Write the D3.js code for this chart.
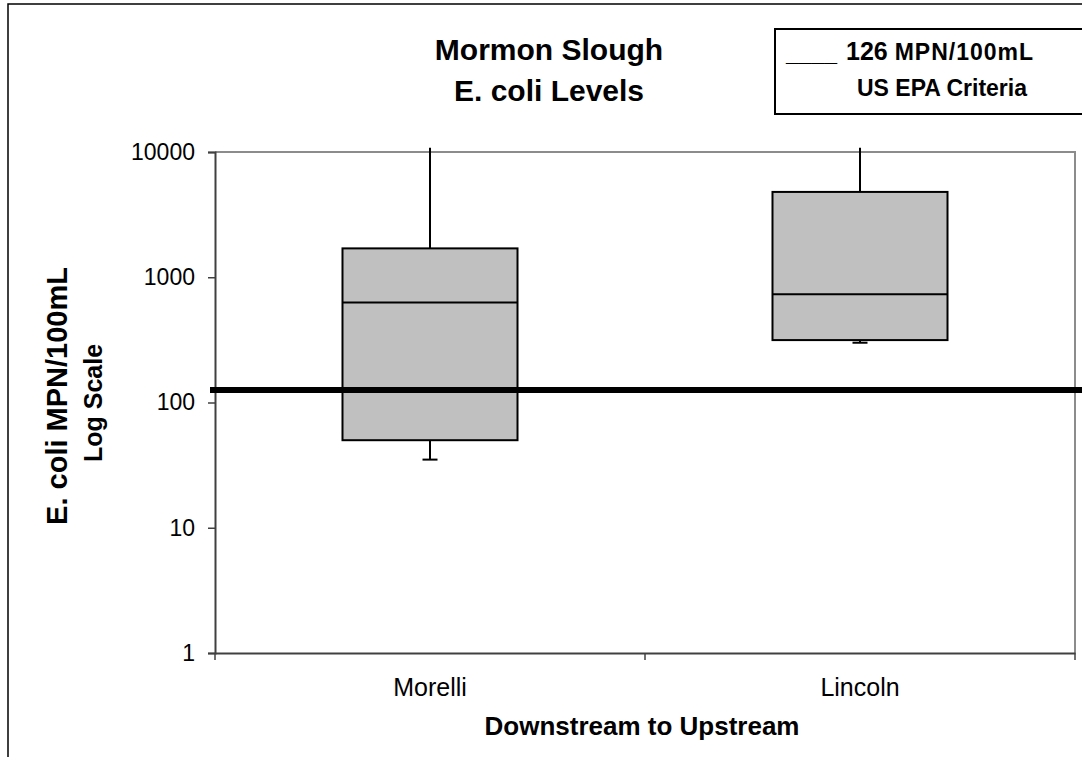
<!DOCTYPE html>
<html>
<head>
<meta charset="utf-8">
<script src="https://cdn.jsdelivr.net/npm/d3@7"></script>
<style>
  html, body { margin: 0; padding: 0; background: #fff; }
  svg { display: block; font-family: "Liberation Sans", Arial, sans-serif; }
</style>
</head>
<body>
<svg id="chart" width="1082" height="757"></svg>
<script>
// ---- data ----
const categories = ["Morelli", "Lincoln"];
const minValues = [35, 300];
const q1Values = [50, 315];
const medianValues = [630, 730];
const q3Values = [1700, 4800];
const maxValues = [10800, 10800];
const criteriaValue = 126;
const yTickValues = [1, 10, 100, 1000, 10000];
const titleLines = ["Mormon Slough", "E. coli Levels"];
const legendLines = ["126", "MPN/100mL", "US EPA Criteria"];

const svg = d3.select("#chart");
const W = 1082, H = 757;
const plot = { left: 215, right: 1075, top: 152, bottom: 653 };
const FONT = "Liberation Sans, Arial, sans-serif";

// outer chart border (extends beyond window)
svg.append("rect")
  .attr("x", 8).attr("y", 4)
  .attr("width", W + 20).attr("height", H + 20)
  .attr("fill", "#fff").attr("stroke", "#000").attr("stroke-width", 1.5);

const x = d3.scaleBand().domain(categories).range([plot.left, plot.right]);
const y = d3.scaleLog().domain([1, 10000]).range([plot.bottom, plot.top]);

// plot area top/right border
svg.append("path")
  .attr("d", `M${plot.left},${plot.top}H${plot.right}V${plot.bottom}`)
  .attr("fill", "none").attr("stroke", "#8c8c8c").attr("stroke-width", 2);

// y axis
const yAxis = d3.axisLeft(y).tickValues(yTickValues).tickFormat(d3.format("d"))
  .tickSizeOuter(0).tickSize(7).tickPadding(13);
const gy = svg.append("g").attr("transform", `translate(${plot.left},0)`).call(yAxis);
gy.select(".domain").attr("stroke", "#404040").attr("stroke-width", 2);
gy.selectAll(".tick line").attr("stroke", "#404040").attr("stroke-width", 1.5);
gy.selectAll(".tick text").attr("font-size", 23).attr("fill", "#000").attr("font-family", FONT);

// x axis
const xAxis = d3.axisBottom(x).tickSize(0).tickPadding(25);
const gx = svg.append("g").attr("transform", `translate(0,${plot.bottom})`).call(xAxis);
gx.select(".domain").attr("stroke", "#404040").attr("stroke-width", 2);
gx.selectAll(".tick text").attr("font-size", 25).attr("fill", "#000").attr("font-family", FONT);
// x tick marks at band boundaries
const xBoundaries = [plot.left, ...categories.slice(1).map(c => x(c)), plot.right];
svg.append("g").selectAll("line").data(xBoundaries).join("line")
  .attr("x1", d => d).attr("x2", d => d)
  .attr("y1", plot.bottom).attr("y2", plot.bottom + 7)
  .attr("stroke", "#404040").attr("stroke-width", 1.5);

// boxes
const boxW = x.bandwidth() * 0.407;
const capW = 15;
const boxes = svg.append("g");
categories.forEach((c, i) => {
  const cx = x(c) + x.bandwidth() / 2;
  boxes.append("line").attr("x1", cx).attr("x2", cx)
    .attr("y1", y(maxValues[i])).attr("y2", y(minValues[i]))
    .attr("stroke", "#000").attr("stroke-width", 2);
  boxes.append("line").attr("x1", cx - capW / 2).attr("x2", cx + capW / 2)
    .attr("y1", y(minValues[i])).attr("y2", y(minValues[i]))
    .attr("stroke", "#000").attr("stroke-width", 2);
  boxes.append("rect")
    .attr("x", cx - boxW / 2).attr("width", boxW)
    .attr("y", y(q3Values[i])).attr("height", y(q1Values[i]) - y(q3Values[i]))
    .attr("fill", "#c0c0c0").attr("stroke", "#000").attr("stroke-width", 2);
  boxes.append("line").attr("x1", cx - boxW / 2).attr("x2", cx + boxW / 2)
    .attr("y1", y(medianValues[i])).attr("y2", y(medianValues[i]))
    .attr("stroke", "#000").attr("stroke-width", 2);
});

// criteria line
svg.append("line")
  .attr("x1", plot.left - 5).attr("x2", W)
  .attr("y1", y(criteriaValue)).attr("y2", y(criteriaValue))
  .attr("stroke", "#000").attr("stroke-width", 6);

// title
svg.append("text").attr("x", 549).attr("y", 60).attr("text-anchor", "middle")
  .attr("font-size", 30).attr("font-weight", "bold").text(titleLines[0]);
svg.append("text").attr("x", 549).attr("y", 101).attr("text-anchor", "middle")
  .attr("font-size", 30).attr("font-weight", "bold").text(titleLines[1]);

// legend box
svg.append("rect").attr("x", 775).attr("y", 29).attr("width", 310).attr("height", 85)
  .attr("fill", "#fff").attr("stroke", "#000").attr("stroke-width", 2);
svg.append("text").attr("x", 786).attr("y", 61).attr("font-size", 23).attr("font-weight", "bold").text("____");
const l1 = svg.append("text").attr("x", 846).attr("y", 60).attr("font-weight", "bold");
l1.append("tspan").attr("font-size", 25).text(legendLines[0] + " ");
l1.append("tspan").attr("font-size", 23).attr("letter-spacing", 1).text(legendLines[1]);
svg.append("text").attr("x", 942).attr("y", 96).attr("text-anchor", "middle")
  .attr("font-size", 23).attr("font-weight", "bold").text(legendLines[2]);

// axis titles
svg.append("text").attr("transform", `translate(67,396) rotate(-90)`)
  .attr("text-anchor", "middle").attr("font-size", 29).attr("font-weight", "bold")
  .text("E. coli MPN/100mL");
svg.append("text").attr("transform", `translate(102,403) rotate(-90)`)
  .attr("text-anchor", "middle").attr("font-size", 25).attr("font-weight", "bold")
  .text("Log Scale");
svg.append("text").attr("x", 642).attr("y", 735)
  .attr("text-anchor", "middle").attr("font-size", 26).attr("font-weight", "bold")
  .text("Downstream to Upstream");
</script>
</body>
</html>
